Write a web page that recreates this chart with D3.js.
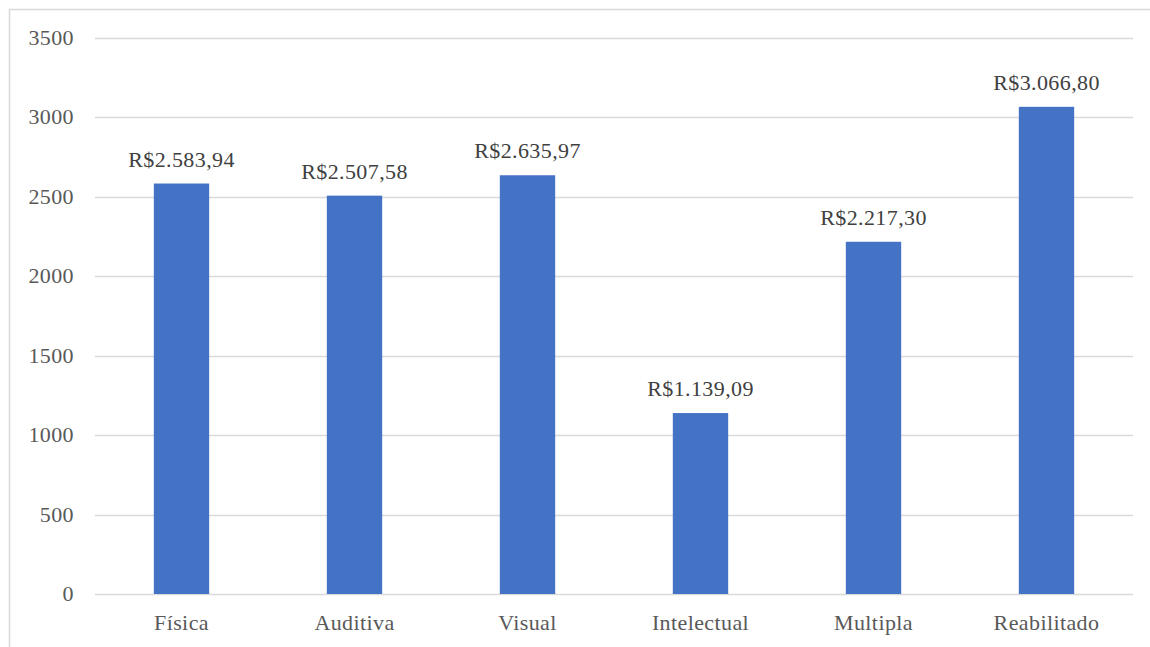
<!DOCTYPE html>
<html><head><meta charset="utf-8">
<script src="https://cdn.jsdelivr.net/npm/d3@7"></script>
<style>body{margin:0;background:#fff}svg{display:block}
svg text{font-family:"Liberation Serif","Times New Roman",serif;font-size:22px;letter-spacing:0.4px}</style>
</head><body>
<script>
const categories = ["Física","Auditiva","Visual","Intelectual","Multipla","Reabilitado"];
const values = [2583.94, 2507.58, 2635.97, 1139.09, 2217.30, 3066.80];
const valueLabels = ["R$2.583,94","R$2.507,58","R$2.635,97","R$1.139,09","R$2.217,30","R$3.066,80"];
const yTicks = [0,500,1000,1500,2000,2500,3000,3500];

const W=1150,H=647;
const svg=d3.select("body").append("svg").attr("width",W).attr("height",H);
svg.append("rect").attr("x",9.5).attr("y",9.5).attr("width",W+20).attr("height",H+20)
  .attr("fill","#fff").attr("stroke","#d9d9d9").attr("stroke-width",1.5);

const x=d3.scaleBand().domain(categories).range([95,1133]).paddingInner(0.68).paddingOuter(0.34);
const y=d3.scaleLinear().domain([0,3500]).range([594,38]);

svg.append("g").selectAll("line").data(yTicks).join("line")
  .attr("x1",95).attr("x2",1133).attr("y1",d=>Math.round(y(d))+0.5).attr("y2",d=>Math.round(y(d))+0.5)
  .attr("stroke","#d9d9d9").attr("stroke-width",1.5);

svg.append("g").selectAll("text").data(yTicks).join("text")
  .attr("x",74).attr("y",d=>y(d)+7).attr("text-anchor","end")
  .attr("fill","#595959").text(d=>d);

svg.append("g").selectAll("rect").data(values).join("rect")
  .attr("x",(d,i)=>x(categories[i])).attr("width",x.bandwidth())
  .attr("y",d=>y(d)).attr("height",d=>y(0)-y(d)).attr("fill","#4472c4");

svg.append("g").selectAll("text").data(values).join("text")
  .attr("x",(d,i)=>x(categories[i])+x.bandwidth()/2).attr("y",d=>y(d)-17)
  .attr("text-anchor","middle").attr("fill","#404040")
  .text((d,i)=>valueLabels[i]);

svg.append("g").selectAll("text").data(categories).join("text")
  .attr("x",d=>x(d)+x.bandwidth()/2).attr("y",630)
  .attr("text-anchor","middle").attr("fill","#595959")
  .text(d=>d);
</script>
</body></html>
